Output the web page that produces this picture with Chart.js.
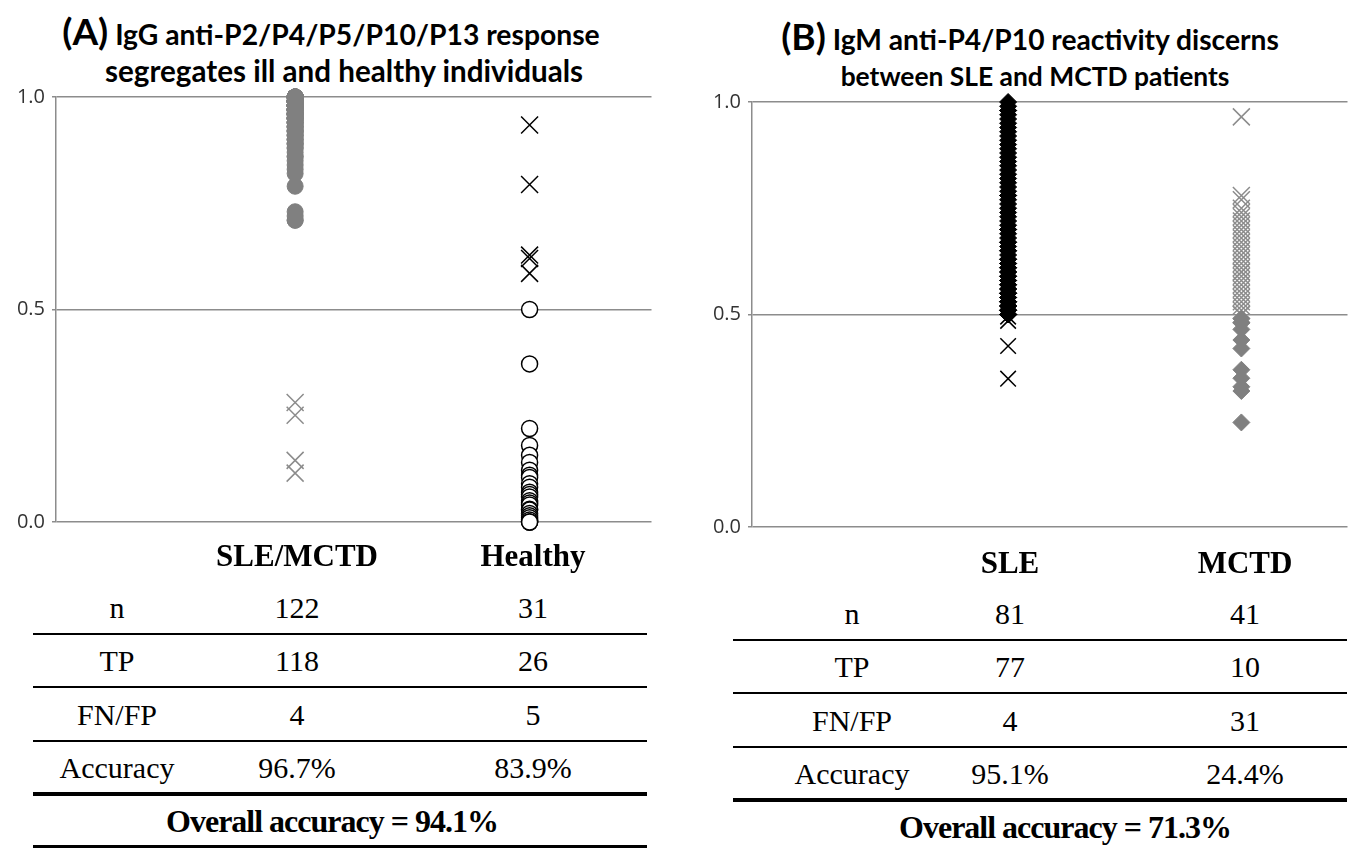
<!DOCTYPE html>
<html>
<head>
<meta charset="utf-8">
<script src="https://cdn.jsdelivr.net/npm/chart.js@4.4.1/dist/chart.umd.min.js"></script>
<style>
  body { margin: 0; background: #fff; width: 1361px; height: 848px; overflow: hidden; position: relative; font-family: "Liberation Serif", serif; }
  .title { position: absolute; font-family: Lato, sans-serif; font-weight: bold; color: #000; white-space: nowrap; transform: translate(-50%, -50%); line-height: 1; }
  .title span { font-size: 37px; }
  canvas { position: absolute; }
  .cell { position: absolute; transform: translate(-50%, -50%); font-size: 30px; white-space: nowrap; color: #000; }
  .head { font-weight: bold; font-size: 31px; }
  .overall { font-weight: bold; font-size: 32px; letter-spacing: -1px; }
  .rule { position: absolute; background: #000; }
</style>
</head>
<body>
<div class="title" style="left:331px; top:30px; font-size:28.3px;"><span>(A)</span> IgG anti-P2/P4/P5/P10/P13 response</div>
<div class="title" style="left:344px; top:71px; font-size:29.6px;">segregates ill and healthy individuals</div>
<div class="title" style="left:1030px; top:35px; font-size:28.2px;"><span>(B)</span> IgM anti-P4/P10 reactivity discerns</div>
<div class="title" style="left:1035px; top:76px; font-size:26.4px;">between SLE and MCTD patients</div>
<canvas id="chartA" width="665" height="463" style="left:0px; top:78px;"></canvas>
<canvas id="chartB" width="665" height="463" style="left:696px; top:83px;"></canvas>
<div id="tables"></div>
<script>
// panel A: IgG score, SLE/MCTD vs healthy
const aGroups = ["SLE/MCTD", "Healthy"];
const aSleTP = [
  1.00, 1.00, 1.00, 1.00, 1.00, 1.00, 1.00, 1.00, 1.00, 1.00, 1.00, 1.00, 1.00, 1.00, 1.00, 1.00, 1.00, 1.00, 1.00, 1.00,
  0.99, 0.99, 0.99, 0.99, 0.99, 0.99, 0.99, 0.99, 0.99, 0.99, 0.99, 0.99, 0.99, 0.99, 0.99, 0.99, 0.99, 0.99,
  0.98, 0.98, 0.98, 0.98, 0.98, 0.98, 0.98, 0.98, 0.98, 0.98, 0.98, 0.98, 0.98, 0.98,
  0.97, 0.97, 0.97, 0.97, 0.97, 0.97, 0.97, 0.97, 0.97, 0.97, 0.97, 0.97,
  0.96, 0.96, 0.96, 0.96, 0.96, 0.96, 0.96, 0.96, 0.96, 0.96,
  0.95, 0.95, 0.95, 0.95, 0.95, 0.95, 0.95, 0.95,
  0.94, 0.94, 0.94, 0.94, 0.94,
  0.93, 0.93, 0.93, 0.93,
  0.92, 0.92, 0.92, 0.92,
  0.91, 0.91, 0.91,
  0.90, 0.90, 0.90,
  0.89, 0.89, 0.89,
  0.88, 0.88,
  0.87, 0.86, 0.86, 0.85, 0.84, 0.83, 0.82,
  0.79,
  0.73, 0.72, 0.71, 0.71
];
const aSleFN = [0.281, 0.251, 0.145, 0.115];
const aHealthyFP = [0.934, 0.794, 0.628, 0.620, 0.585];
const aHealthyTP = [0.50, 0.372, 0.22, 0.18, 0.157, 0.14, 0.122, 0.11, 0.105, 0.09, 0.082, 0.07, 0.065,
  0.059, 0.05, 0.045, 0.04, 0.03, 0.028, 0.02, 0.015, 0.01, 0.005, 0.0, 0.0, 0.0];

// panel B: IgM score, SLE vs MCTD
const bGroups = ["SLE", "MCTD"];
const bSleTP = [
  1.00, 0.99, 0.98, 0.98, 0.97, 0.96, 0.95, 0.94, 0.93, 0.92,
  0.91, 0.90, 0.89, 0.88, 0.87, 0.86, 0.85, 0.84, 0.83, 0.82,
  0.81, 0.80, 0.79, 0.78, 0.78, 0.77, 0.76, 0.75, 0.74, 0.73,
  0.72, 0.71, 0.70, 0.70, 0.69, 0.68, 0.67, 0.67, 0.66, 0.65,
  0.65, 0.64, 0.63, 0.63, 0.62, 0.62, 0.61, 0.61, 0.60, 0.60,
  0.59, 0.59, 0.58, 0.58, 0.57, 0.57, 0.56, 0.56, 0.55, 0.55,
  0.55, 0.54, 0.54, 0.53, 0.53, 0.53, 0.52, 0.52, 0.52, 0.51,
  0.51, 0.51, 0.50, 0.50, 0.50, 0.50, 0.50
];
const bSleFN = [0.495, 0.485, 0.426, 0.349];
const bMctdFP = [0.965, 0.78, 0.77, 0.75, 0.74, 0.73, 0.72, 0.71, 0.70, 0.69, 0.68,
  0.67, 0.66, 0.65, 0.64, 0.63, 0.62, 0.61, 0.60, 0.60, 0.59,
  0.58, 0.57, 0.56, 0.55, 0.54, 0.53, 0.52, 0.51, 0.50, 0.50];
const bMctdTP = [0.49, 0.48, 0.465, 0.44, 0.42, 0.37, 0.35, 0.33, 0.32, 0.246];

const yTicks = [0, 0.5, 1.0];

// tables
const rowLabels = ["n", "TP", "FN/FP", "Accuracy"];
const aCol1 = ["122", "118", "4", "96.7%"];
const aCol2 = ["31", "26", "5", "83.9%"];
const aOverall = "Overall accuracy = 94.1%";
const bCol1 = ["81", "77", "4", "95.1%"];
const bCol2 = ["41", "10", "31", "24.4%"];
const bOverall = "Overall accuracy = 71.3%";

function pts(x, vals) {
  return vals.map(v => ({ x: x, y: v }));
}

function makeChart(id, xMin, xMax, datasets) {
  return new Chart(document.getElementById(id), {
    type: "scatter",
    data: { datasets: datasets },
    options: {
      responsive: false,
      animation: false,
      layout: { padding: { top: 5, bottom: 4, right: 10, left: 0 } },
      plugins: { legend: { display: false }, tooltip: { enabled: false } },
      scales: {
        x: { type: "linear", min: xMin, max: xMax, display: false },
        y: {
          min: 0,
          max: 1,
          afterBuildTicks: s => { s.ticks = yTicks.map(v => ({ value: v })); },
          afterFit: s => { s.width = 56; },
          ticks: {
            padding: 7,
            color: "#333",
            font: { family: "Open Sans", size: 20 },
            callback: v => v.toFixed(1)
          },
          grid: { color: "#8c8c8c", lineWidth: 1.5, tickLength: 4 },
          border: { display: true, color: "#8c8c8c", width: 1.5 }
        }
      }
    }
  });
}

makeChart("chartA", -0.02, 2.52, [
  { data: pts(1, aSleTP), pointStyle: "circle", pointRadius: 8, backgroundColor: "#808080", borderColor: "#808080", borderWidth: 1, clip: false },
  { data: pts(1, aSleFN), pointStyle: "crossRot", pointRadius: 12, borderColor: "#8c8c8c", borderWidth: 1.5, clip: false },
  { data: pts(2, aHealthyFP), pointStyle: "crossRot", pointRadius: 12, borderColor: "#000", borderWidth: 1.5, clip: false },
  { data: pts(2, aHealthyTP), pointStyle: "circle", pointRadius: 8, backgroundColor: "#fff", borderColor: "#000", borderWidth: 1.5, clip: false }
]);

makeChart("chartB", -0.098, 2.455, [
  { data: pts(1, bSleTP), pointStyle: "rectRot", pointRadius: 8.5, backgroundColor: "#000", borderColor: "#000", borderWidth: 1, clip: false },
  { data: pts(1, bSleFN), pointStyle: "crossRot", pointRadius: 11, borderColor: "#000", borderWidth: 1.5, clip: false },
  { data: pts(2, bMctdTP), pointStyle: "rectRot", pointRadius: 8.5, backgroundColor: "#808080", borderColor: "#808080", borderWidth: 1, clip: false },
  { data: pts(2, bMctdFP), pointStyle: "crossRot", pointRadius: 12, borderColor: "#8c8c8c", borderWidth: 1.5, clip: false }
]);

const host = document.getElementById("tables");
function cell(text, x, y, cls) {
  const d = document.createElement("div");
  d.className = "cell" + (cls ? " " + cls : "");
  d.style.left = x + "px";
  d.style.top = y + "px";
  d.textContent = text;
  host.appendChild(d);
}
function rule(x1, x2, y, h) {
  const d = document.createElement("div");
  d.className = "rule";
  d.style.left = x1 + "px";
  d.style.width = (x2 - x1) + "px";
  d.style.top = (y - h / 2) + "px";
  d.style.height = h + "px";
  host.appendChild(d);
}
function table(opt) {
  cell(opt.groups[0], opt.cx[1], opt.headY, "head");
  cell(opt.groups[1], opt.cx[2], opt.headY, "head");
  rowLabels.forEach((lab, i) => {
    const y = opt.rowY + i * 53.3;
    cell(lab, opt.cx[0], y);
    cell(opt.col1[i], opt.cx[1], y);
    cell(opt.col2[i], opt.cx[2], y);
    if (i < 3) rule(opt.x1, opt.x2, y + 26, 2);
  });
  const accY = opt.rowY + 3 * 53.3;
  rule(opt.x1, opt.x2, accY + 26, 4);
  cell(opt.overall, opt.overallX, accY + 53, "overall");
  rule(opt.x1, opt.x2, accY + 79, opt.bottomH);
}
table({ groups: aGroups, cx: [117, 297, 533], headY: 556, rowY: 608, x1: 33, x2: 647, col1: aCol1, col2: aCol2, overall: aOverall, overallX: 332, bottomH: 4 });
table({ groups: bGroups, cx: [852, 1010, 1245], headY: 563, rowY: 614, x1: 733, x2: 1347, col1: bCol1, col2: bCol2, overall: bOverall, overallX: 1065, bottomH: 2 });
</script>
</body>
</html>
